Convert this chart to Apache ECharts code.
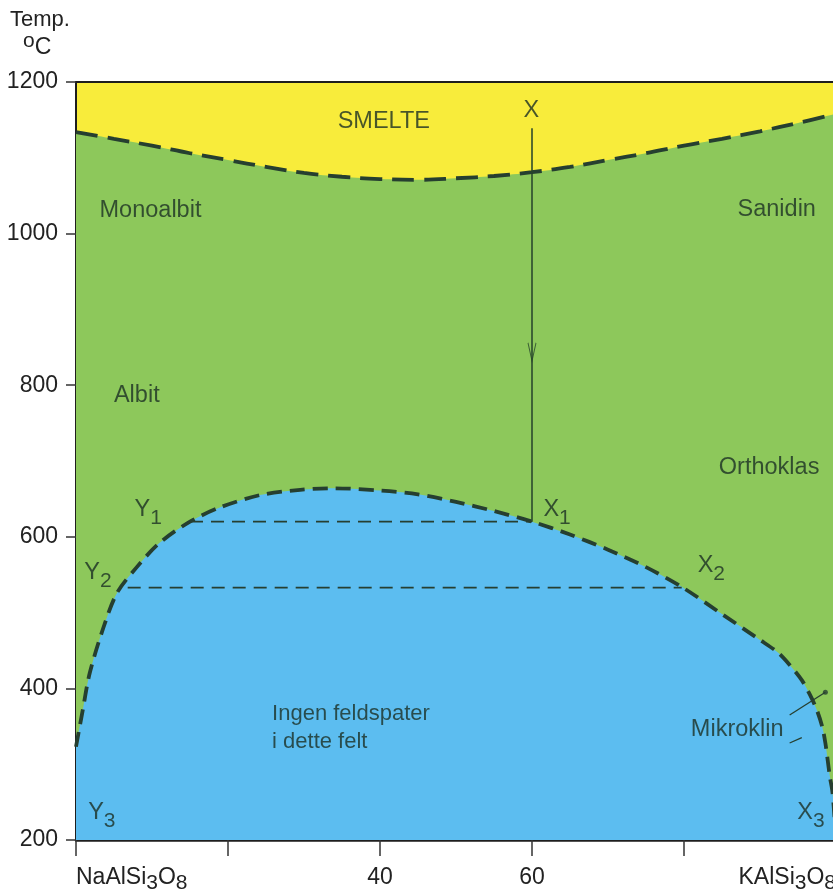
<!DOCTYPE html>
<html><head><meta charset="utf-8">
<script src="https://cdn.jsdelivr.net/npm/echarts@6/dist/echarts.min.js"></script>
<style>html,body{margin:0;padding:0;background:#fff}#c{width:833px;height:893px}</style>
</head><body><div id="c"></div>
<script>
// ---- data ----
const xTickValues = [0, 20, 40, 60, 80, 100];
const xTickLabels = ['{n|NaAlSi}{s|3}{n|O}{s|8}', '', '{n|40}', '{n|60}', '', '{n|KAlSi}{s|3}{n|O}{s|8}'];
const yTickValues = [200, 400, 600, 800, 1000, 1200];

// liquidus (SMELTE boundary), composition % KAlSi3O8 vs temperature °C
const liquidusX = [0, 5, 10, 15, 20, 25, 30, 35, 40, 45, 50, 55, 60, 65, 70, 75, 80, 85, 90, 95, 100];
const liquidusT = [1134, 1125, 1116, 1106, 1097, 1088, 1080, 1075, 1072, 1071, 1073, 1076, 1081, 1088, 1097, 1106, 1116, 1125, 1135, 1146, 1158];

// solvus (boundary of "Ingen feldspater" field)
const solvusX = [0, 0.9, 1.8, 3.6, 5.4, 8.0, 11.0, 15.0, 19.0, 24.2, 29.5, 34, 40, 45, 50, 55, 60, 65, 70, 75, 80, 85, 90, 92.4, 93.9, 95.5, 96.6, 97.5, 98.2, 98.6, 98.9, 99.2, 99.5, 99.7, 100];
const solvusT = [323, 372, 420, 480, 526, 560, 592, 620, 639, 655, 662, 664, 661, 656, 646, 634, 620, 603, 583, 560, 532, 498, 464, 447, 431, 411, 391, 371, 349, 328, 306, 283, 266, 244, 200];

// tie lines Y1-X1 and Y2-X2
const tie1X = [15, 60], tie1T = [620, 620];
const tie2X = [6.8, 79.7], tie2T = [533, 533];

// cooling path from X to X1
const pathX = [60, 60], pathT = [1139, 620];
const arrowHeadX = [60], arrowHeadT = [844];

// Mikroklin leader lines
const leaderX = [93.9, 98.6], leaderT = [365, 395];
const tickMarkX = [93.9, 95.5], tickMarkT = [328, 335];

// field labels
const labelX = [40.5, 59.9, 9.8, 92.2, 8.0, 91.2, 9.5, 2.9, 3.4, 63.3, 83.6, 96.7, 87.0];
const labelT = [1148, 1163, 1031, 1032, 787, 691, 631, 548, 232, 631, 557, 232, 346];
const labelText = ['SMELTE', 'X', 'Monoalbit', 'Sanidin', 'Albit', 'Orthoklas',
  '{m|Y}{s|1}', '{m|Y}{s|2}', '{m|Y}{s|3}', '{m|X}{s|1}', '{m|X}{s|2}', '{m|X}{s|3}', 'Mikroklin'];
const leftLabelX = [25.8], leftLabelT = [348], leftLabelText = ['Ingen feldspater\ni dette felt'];

// ---- chart ----
const FONT = 'Liberation Sans, Arial, sans-serif';
const TXT = '#1c3024';
const LINE = '#263f30';
const zip = (a, b) => a.map((v, i) => [v, b[i]]);

const chart = echarts.init(document.getElementById('c'));
const richSub = {
  m: { fontSize: 23.5, lineHeight: 31, verticalAlign: 'top', color: TXT, fontFamily: FONT },
  s: { fontSize: 21, lineHeight: 31, verticalAlign: 'bottom', color: TXT, fontFamily: FONT }
};
chart.setOption({
  animation: false,
  backgroundColor: '#ffffff',
  grid: { left: 76, top: 82, right: -3, bottom: 53, outerBoundsMode: 'none', containLabel: false,
    show: true, backgroundColor: '#F8EC3B', borderColor: '#1e1e1e', borderWidth: 2 },
  graphic: [
    { type: 'text', left: 10, top: 9, style: { text: 'Temp.', font: '22px ' + FONT, fill: '#222' } },
    { type: 'text', left: 23, top: 31, style: { text: '{o|o}{c|C}', rich: {
      o: { fontSize: 21, lineHeight: 28, verticalAlign: 'top', fill: '#222', fontFamily: FONT },
      c: { fontSize: 23, lineHeight: 28, verticalAlign: 'bottom', fill: '#222', fontFamily: FONT } } } }
  ],
  xAxis: {
    type: 'value', min: 0, max: 100, interval: 20,
    axisLine: { show: true, lineStyle: { color: '#1e1e1e', width: 2.5 } },
    axisTick: { show: true, length: 16, lineStyle: { color: '#333', width: 1.5 } },
    splitLine: { show: false },
    axisLabel: {
      margin: 26, alignMinLabel: 'left', alignMaxLabel: 'right',
      formatter: v => { const i = xTickValues.indexOf(v); return i >= 0 ? xTickLabels[i] : ''; },
      rich: {
        n: { fontSize: 23, lineHeight: 28, verticalAlign: 'top', color: '#222', fontFamily: FONT },
        s: { fontSize: 21, lineHeight: 28, verticalAlign: 'bottom', color: '#222', fontFamily: FONT }
      }
    }
  },
  yAxis: {
    type: 'value', min: 200, max: 1200, interval: 200,
    axisLine: { show: true, lineStyle: { color: '#1e1e1e', width: 2 } },
    axisTick: { show: true, length: 10, lineStyle: { color: '#333', width: 1.5 } },
    splitLine: { show: false },
    axisLabel: { margin: 18, fontSize: 23, color: '#222', fontFamily: FONT,
      formatter: v => yTickValues.includes(v) ? String(v) : '' }
  },
  series: [
    { type: 'line', data: zip(liquidusX, liquidusT), smooth: 0.4, symbol: 'none', z: 2,
      lineStyle: { color: LINE, width: 3.8, type: [22, 10] },
      areaStyle: { color: '#8DC85B', opacity: 1, origin: 'start' } },
    { type: 'line', data: zip(solvusX, solvusT), smooth: 0.3, symbol: 'none', z: 3,
      lineStyle: { color: LINE, width: 3.8, type: [15, 8] },
      areaStyle: { color: '#5CBDF0', opacity: 1, origin: 'start' } },
    { type: 'line', data: zip(tie1X, tie1T), symbol: 'none', z: 4,
      lineStyle: { color: LINE, width: 1.6, type: [13, 8] } },
    { type: 'line', data: zip(tie2X, tie2T), symbol: 'none', z: 4,
      lineStyle: { color: LINE, width: 1.6, type: [13, 8] } },
    { type: 'line', data: zip(pathX, pathT), symbol: 'none', z: 5,
      lineStyle: { color: '#24422a', width: 1.5 } },
    { type: 'scatter', data: zip(arrowHeadX, arrowHeadT), z: 6, silent: true,
      symbol: 'path://M0 0L5 18L10 0', symbolSize: [8, 18],
      itemStyle: { color: 'rgba(0,0,0,0)', borderColor: '#24422a', borderWidth: 1.4 } },
    { type: 'line', data: zip(leaderX, leaderT), symbol: 'none', z: 5,
      lineStyle: { color: LINE, width: 1.3 } },
    { type: 'line', data: zip(tickMarkX, tickMarkT), symbol: 'none', z: 5,
      lineStyle: { color: LINE, width: 1.3 } },
    { type: 'scatter', data: [[leaderX[1], leaderT[1]]], symbolSize: 5, z: 6,
      itemStyle: { color: LINE } },
    { type: 'scatter', z: 7, silent: true, symbolSize: 1,
      itemStyle: { color: 'rgba(0,0,0,0)' },
      data: labelX.map((x, i) => ({ value: [x, labelT[i]], name: labelText[i] })),
      label: { show: true, position: 'inside', formatter: p => p.name,
        fontSize: 23.5, color: TXT, fontFamily: FONT, rich: richSub } },
    { type: 'scatter', z: 7, silent: true, symbolSize: 1,
      itemStyle: { color: 'rgba(0,0,0,0)' },
      data: leftLabelX.map((x, i) => ({ value: [x, leftLabelT[i]], name: leftLabelText[i] })),
      label: { show: true, position: 'inside', align: 'left', formatter: p => p.name,
        fontSize: 22, lineHeight: 28, color: TXT, fontFamily: FONT } }
  ]
});
</script></body></html>
